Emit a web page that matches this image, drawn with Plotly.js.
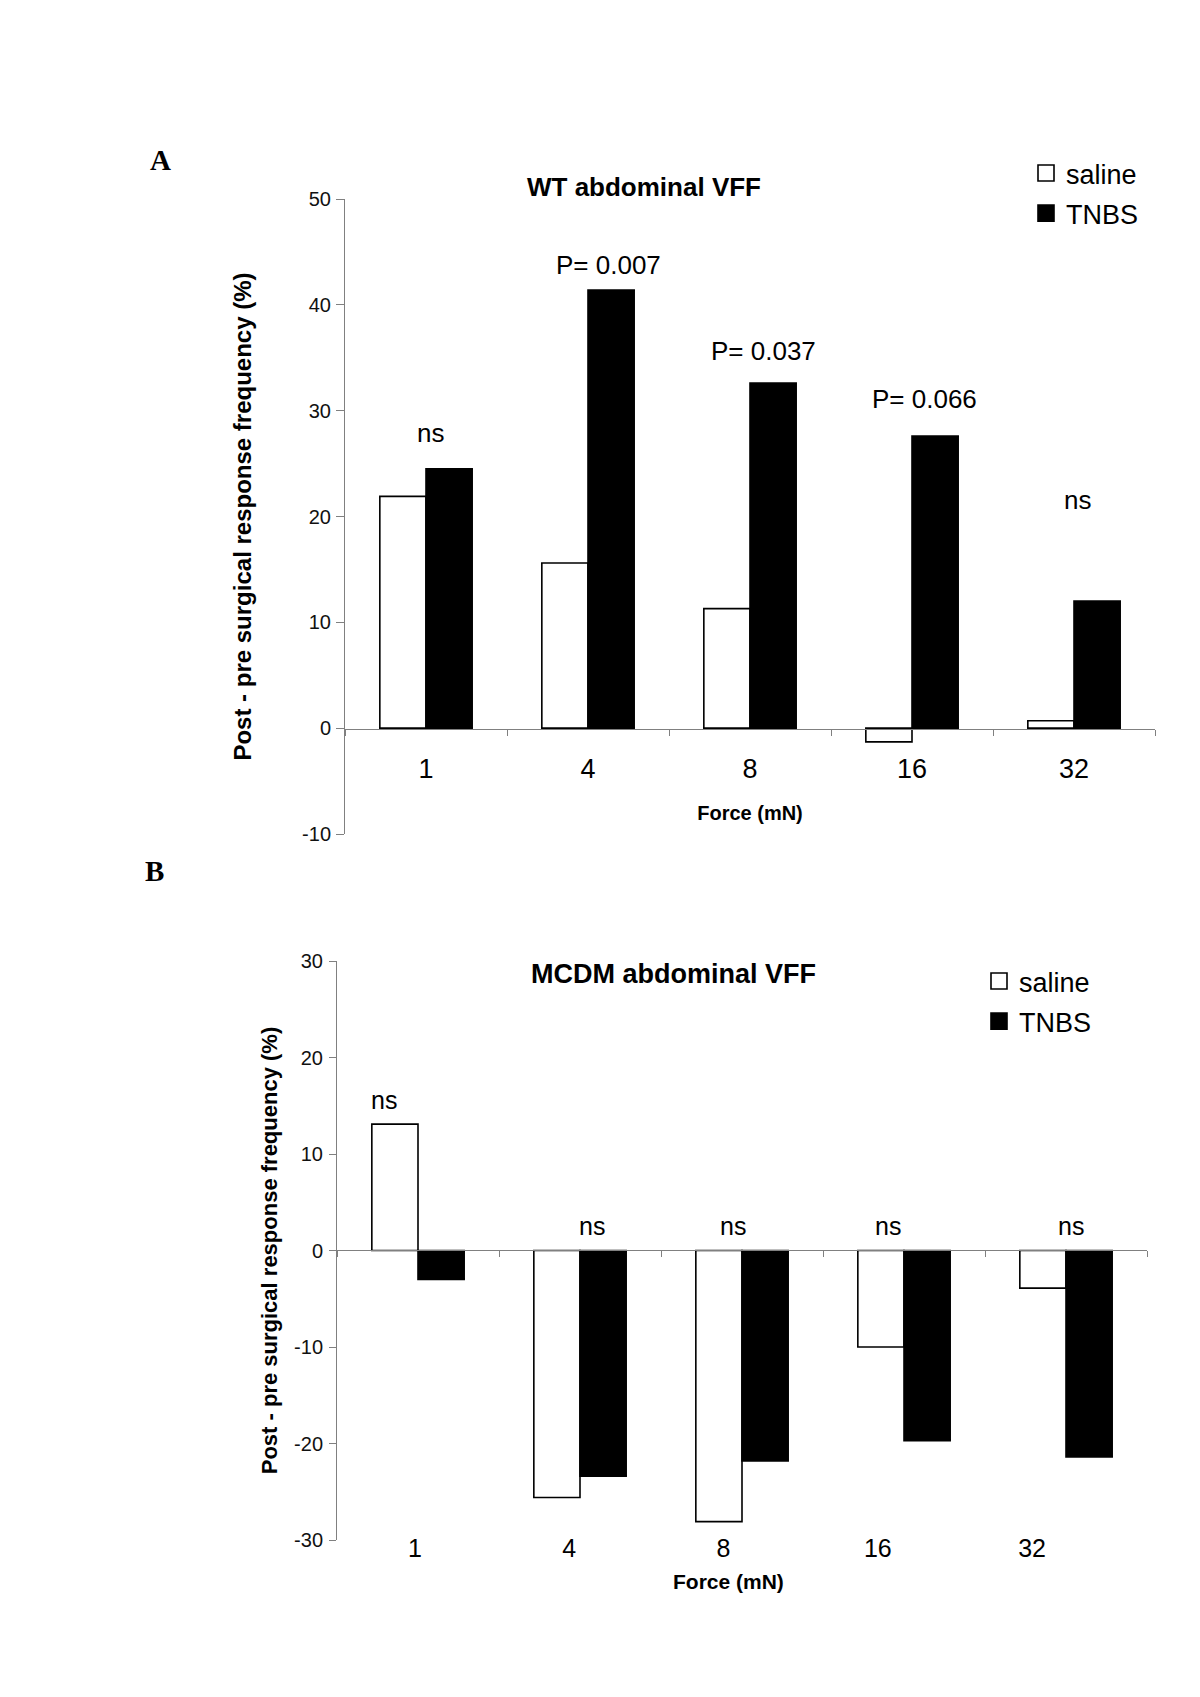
<!DOCTYPE html>
<html>
<head>
<meta charset="utf-8">
<script src="https://cdn.plot.ly/plotly-3.0.1.min.js"></script>
<style>
  body { margin: 0; background: #fff; }
  #chart { width: 1200px; height: 1697px; }
</style>
</head>
<body>
<div id="chart"></div>
<script>
// data --------------------------------------------------------------
const forceLabels = ['1', '4', '8', '16', '32'];

// panel A, WT
const wtSaline = [21.9, 15.6, 11.3, -1.3, 0.7];
const wtTnbs = [24.5, 41.4, 32.6, 27.6, 12.0];
const wtNotes = ['ns', 'P= 0.007', 'P= 0.037', 'P= 0.066', 'ns'];
const wtNoteY = [27.9, 43.8, 35.6, 31.1, 21.6];
const wtTicks = [-10, 0, 10, 20, 30, 40, 50];

// panel B, MCDM
const mcdmSaline = [13.1, -25.6, -28.1, -10.0, -3.9];
const mcdmTnbs = [-3.0, -23.4, -21.8, -19.7, -21.4];
const mcdmNotes = ['ns', 'ns', 'ns', 'ns', 'ns'];
const mcdmNoteY = [15.6, 2.5, 2.5, 2.5, 2.5];
const mcdmTicks = [-30, -20, -10, 0, 10, 20, 30];

// helpers -------------------------------------------------------------
const W = 1200, H = 1697;
const px = (x) => x / W;          // pixel -> paper x
const py = (y) => 1 - y / H;      // pixel -> paper y
const FONT = 'Arial, "Liberation Sans", sans-serif';
const SERIF = '"Liberation Serif", "Times New Roman", serif';
const AXIS_GREY = 'rgb(128,128,128)';

const salineStyle = {color: 'white', line: {color: 'black', width: 1.6}};
const tnbsStyle = {color: 'black', line: {color: 'black', width: 1.6}};

// legend proxies: square markers, no points drawn
const legendItem = (name, color, xa, ya, lg, grp) => ({
    type: 'scatter', mode: 'markers', x: [forceLabels[0]], y: [null], name: name,
    marker: {symbol: 'square', size: 16, color: color, line: {color: 'black', width: 1.6}},
    xaxis: xa, yaxis: ya, legend: lg, legendgroup: grp, hoverinfo: 'skip'
});

var traces = [
    {type: 'bar', x: forceLabels, y: wtSaline, name: 'saline', marker: salineStyle,
        xaxis: 'x', yaxis: 'y', showlegend: false, hoverinfo: 'skip'},
    {type: 'bar', x: forceLabels, y: wtTnbs, name: 'TNBS', marker: tnbsStyle,
        xaxis: 'x', yaxis: 'y', showlegend: false, hoverinfo: 'skip'},
    {type: 'bar', x: forceLabels, y: mcdmSaline, name: 'saline', marker: salineStyle,
        xaxis: 'x2', yaxis: 'y2', showlegend: false, hoverinfo: 'skip'},
    {type: 'bar', x: forceLabels, y: mcdmTnbs, name: 'TNBS', marker: tnbsStyle,
        xaxis: 'x2', yaxis: 'y2', showlegend: false, hoverinfo: 'skip'},
    legendItem('saline', 'white', 'x', 'y', 'legend', 'a1'),
    legendItem('TNBS', 'black', 'x', 'y', 'legend', 'a2'),
    legendItem('saline', 'white', 'x2', 'y2', 'legend2', 'b1'),
    legendItem('TNBS', 'black', 'x2', 'y2', 'legend2', 'b2'),
    // carrier for the bottom label axis of panel B (draws nothing)
    {type: 'scatter', mode: 'markers', x: forceLabels, y: forceLabels.map(() => null),
        xaxis: 'x3', yaxis: 'y2', showlegend: false, hoverinfo: 'skip'}
];

// p-value / ns notes (x is the category index)
var notes = [];
const wtShift = [4, 20, 13, 12, 3];
wtNotes.forEach((t, i) => {
    notes.push({xref: 'x', yref: 'y', x: i, y: wtNoteY[i], xshift: wtShift[i],
        xanchor: 'center', yanchor: 'middle',
        text: t, showarrow: false, font: {family: FONT, size: 26, color: 'black'}});
});
const mcdmShift = [-34, 12, -9, -16, 5];
mcdmNotes.forEach((t, i) => {
    notes.push({xref: 'x2', yref: 'y2', x: i, y: mcdmNoteY[i], xshift: mcdmShift[i],
        xanchor: 'center', yanchor: 'middle',
        text: t, showarrow: false, font: {family: FONT, size: 25, color: 'black'}});
});

// titles and panel letters
const label = (x, y, text, family, size) => ({
    xref: 'paper', yref: 'paper', x: px(x), y: py(y), xanchor: 'center', yanchor: 'middle',
    text: text, showarrow: false, font: {family: family, size: size, color: 'black'}
});
notes.push(label(644, 187, '<b>WT abdominal VFF</b>', FONT, 26));
notes.push(label(673, 974, '<b>MCDM abdominal VFF</b>', FONT, 27));
notes.push(label(728, 1581, '<b>Force (mN)</b>', FONT, 21));
notes.push(label(160, 160, '<b>A</b>', SERIF, 29));
notes.push(label(154, 871, '<b>B</b>', SERIF, 29));

const yTitle = 'Post - pre surgical response frequency (%)';

var layout = {
    width: W,
    height: H,
    margin: {l: 0, r: 0, t: 0, b: 0},
    paper_bgcolor: 'white',
    plot_bgcolor: 'white',
    font: {family: FONT, color: 'black'},
    barmode: 'group',
    bargap: 0.43,
    bargroupgap: 0,

    // panel A
    xaxis: {
        domain: [px(345), px(1155)],
        anchor: 'free',
        position: py(729),
        type: 'category',
        range: [-0.5, 4.5],
        showline: true,
        linecolor: AXIS_GREY,
        linewidth: 1,
        ticks: 'outside',
        tickson: 'boundaries',
        ticklen: 6,
        tickcolor: AXIS_GREY,
        ticklabelstandoff: 16,
        tickangle: 0,
        tickfont: {family: FONT, size: 27, color: 'black'},
        showgrid: false,
        title: {text: '<b>Force (mN)</b>', font: {family: FONT, size: 20, color: 'black'}, standoff: 22}
    },
    yaxis: {
        domain: [py(834), py(199)],
        anchor: 'x',
        range: [-10, 50],
        tickvals: wtTicks,
        ticktext: wtTicks.map(String),
        showline: true,
        linecolor: AXIS_GREY,
        ticks: 'outside',
        ticklen: 8,
        tickcolor: AXIS_GREY,
        ticklabelstandoff: 1,
        tickfont: {family: FONT, size: 20, color: '#111'},
        showgrid: false,
        zeroline: false,
        title: {text: '<b>' + yTitle + '</b>', font: {family: FONT, size: 24, color: 'black'}, standoff: 43}
    },

    // panel B
    xaxis2: {
        domain: [px(337), px(1147)],
        anchor: 'free',
        position: py(1250),
        type: 'category',
        range: [-0.5, 4.5],
        showline: true,
        linecolor: AXIS_GREY,
        ticks: 'outside',
        tickson: 'boundaries',
        ticklen: 6,
        tickcolor: AXIS_GREY,
        showticklabels: false,
        showgrid: false
    },
    xaxis3: {
        overlaying: 'x2',
        anchor: 'free',
        position: py(1531),
        type: 'category',
        range: [-0.506, 4.745],
        showline: false,
        ticks: '',
        tickangle: 0,
        tickfont: {family: FONT, size: 25, color: 'black'},
        showgrid: false
    },
    yaxis2: {
        domain: [py(1540), py(961)],
        anchor: 'x2',
        range: [-30, 30],
        tickvals: mcdmTicks,
        ticktext: mcdmTicks.map(String),
        showline: true,
        linecolor: AXIS_GREY,
        ticks: 'outside',
        ticklen: 7,
        tickcolor: AXIS_GREY,
        ticklabelstandoff: 2,
        tickfont: {family: FONT, size: 20, color: '#111'},
        showgrid: false,
        zeroline: false,
        title: {text: '<b>' + yTitle + '</b>', font: {family: FONT, size: 22, color: 'black'}, standoff: 10}
    },

    legend: {
        x: px(1026), y: py(149), xanchor: 'left', yanchor: 'top',
        font: {family: FONT, size: 27, color: 'black'},
        bgcolor: 'rgba(0,0,0,0)',
        itemwidth: 30,
        itemsizing: 'trace',
        tracegroupgap: 2
    },
    legend2: {
        x: px(979), y: py(957), xanchor: 'left', yanchor: 'top',
        font: {family: FONT, size: 27, color: 'black'},
        bgcolor: 'rgba(0,0,0,0)',
        itemwidth: 30,
        itemsizing: 'trace',
        tracegroupgap: 2
    },
    annotations: notes,
    hovermode: false
};

Plotly.newPlot('chart', traces, layout, {staticPlot: true});
</script>
</body>
</html>
